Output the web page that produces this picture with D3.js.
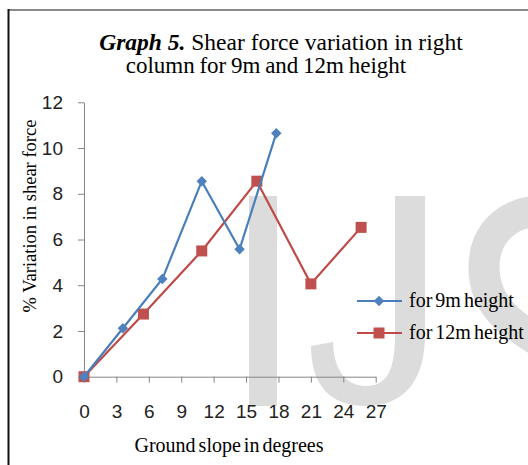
<!DOCTYPE html>
<meta charset="utf-8">
<html>
  <head>
    <script src="https://d3js.org/d3.v7.min.js" type="text/javascript"></script>
    <style>
      body { margin: 0; background: #fff; }
      svg { display: block; }
    </style>
  </head>
  <body>
    <div id="chart"></div>
    <script type="text/javascript">

      // values
      var slope9 = [0, 3.6, 7.25, 10.9, 14.4, 17.8];
      var shear9 = [0, 2.12, 4.27, 8.55, 5.57, 10.65];
      var slope12 = [0, 5.5, 10.9, 16.0, 21.0, 25.65];
      var shear12 = [0, 2.74, 5.5, 8.55, 4.06, 6.53];
      var xTicks = [0, 3, 6, 9, 12, 15, 18, 21, 24, 27];
      var yTicks = [0, 2, 4, 6, 8, 10, 12];
      var seriesNames = ["for 9m height", "for 12m height"];

      var width = 528, height = 465;
      var blue = "#4a7ebb", blueMark = "#4f81bd";
      var red = "#be4b48", redMark = "#c0504d";
      var axisCol = "#868686";
      var serif = "'Liberation Serif', 'Times New Roman', Times, serif";
      var sans = "'Liberation Sans', Arial, sans-serif";

      var svg = d3.select("#chart").append("svg")
          .attr("width", width)
          .attr("height", height);

      var x = d3.scaleLinear().domain([0, 27]).range([84, 375.7]);
      var y = d3.scaleLinear().domain([0, 12]).range([376.7, 102.3]);

      // frame of the figure
      svg.append("line").attr("x1", 8).attr("x2", width).attr("y1", 10).attr("y2", 10)
          .attr("stroke", "#8a8a8a").attr("stroke-width", 2);
      svg.append("line").attr("x1", 8.5).attr("x2", 8.5).attr("y1", 9).attr("y2", height)
          .attr("stroke", "#111").attr("stroke-width", 2);

      // watermark "IJS" behind the chart
      var wm = svg.append("g").attr("fill", "#dcdcdc");
      wm.append("rect").attr("x", 249).attr("y", 196).attr("width", 28).attr("height", 210);
      wm.append("path")
          .attr("d", "M395,196 L425,196 L425,335 C425,385 400,406 366,406 C330,406 311,385 311,346 " +
                     "L333,342 C334,372 347,386 366,386 C386,386 395,372 395,335 Z");
      wm.append("path")
          .attr("fill", "none").attr("stroke", "#dcdcdc").attr("stroke-width", 31)
          .attr("d", "M560,212 C510,205 484,232 484,268 C484,310 520,330 545,345 C560,355 570,370 570,390");

      // title
      var title = svg.append("text")
          .attr("x", 281).attr("y", 50)
          .attr("text-anchor", "middle")
          .attr("font-family", serif).attr("font-size", "23.5px").attr("fill", "#000");
      title.append("tspan").attr("font-weight", "bold").attr("font-style", "italic").text("Graph 5.");
      title.append("tspan").text(" Shear force variation in right");
      svg.append("text")
          .attr("x", 266).attr("y", 73)
          .attr("text-anchor", "middle")
          .attr("font-family", serif).attr("font-size", "23px")
          .attr("word-spacing", "-1px")
          .text("column for 9m and 12m height");

      // axes
      var xAxis = svg.append("g")
          .attr("transform", "translate(0," + y(0) + ")")
          .call(d3.axisBottom(x).tickValues(xTicks).tickSize(6).tickPadding(22).tickSizeOuter(0));
      var yAxis = svg.append("g")
          .attr("transform", "translate(" + x(0) + ",0)")
          .call(d3.axisLeft(y).tickValues(yTicks).tickSize(6).tickPadding(15).tickSizeOuter(0));

      [xAxis, yAxis].forEach(function (a) {
        a.select(".domain").attr("stroke", axisCol).attr("stroke-width", 1);
        a.selectAll(".tick line").attr("stroke", axisCol);
        a.selectAll(".tick text")
            .attr("fill", "#222")
            .style("font-family", sans).style("font-size", "19px");
      });

      // axis titles
      svg.append("text")
          .attr("transform", "translate(36,216) rotate(-90)")
          .attr("text-anchor", "middle")
          .attr("font-family", serif).attr("font-size", "18.5px")
          .text("% Variation in shear force");
      svg.append("text")
          .attr("x", 229).attr("y", 452)
          .attr("text-anchor", "middle")
          .attr("font-family", serif).attr("font-size", "20px")
          .attr("word-spacing", "-2px")
          .text("Ground slope in degrees");

      var line = d3.line()
          .x(function (d) { return x(d[0]); })
          .y(function (d) { return y(d[1]); });

      var data9 = d3.zip(slope9, shear9);
      var data12 = d3.zip(slope12, shear12);

      var diamond = d3.symbol().type(d3.symbolDiamond2).size(70);

      // 12m series
      svg.append("path").datum(data12)
          .attr("d", line).attr("fill", "none")
          .attr("stroke", red).attr("stroke-width", 2.2);
      svg.selectAll(".sq").data(data12).enter().append("rect")
          .attr("class", "sq")
          .attr("x", function (d) { return x(d[0]) - 5.5; })
          .attr("y", function (d) { return y(d[1]) - 5.5; })
          .attr("width", 11).attr("height", 11)
          .attr("fill", redMark);

      // 9m series
      svg.append("path").datum(data9)
          .attr("d", line).attr("fill", "none")
          .attr("stroke", blue).attr("stroke-width", 2.2);
      svg.selectAll(".dm").data(data9).enter().append("path")
          .attr("class", "dm")
          .attr("transform", function (d) { return "translate(" + x(d[0]) + "," + y(d[1]) + ")"; })
          .attr("d", diamond)
          .attr("fill", blueMark);

      // legend
      var legend = svg.append("g");
      var legY = [301, 333];
      legY.forEach(function (ly, i) {
        var c = i == 0 ? blue : red;
        legend.append("line").attr("x1", 357).attr("x2", 402).attr("y1", ly).attr("y2", ly)
            .attr("stroke", c).attr("stroke-width", 2.2);
        if (i == 0) {
          legend.append("path").attr("transform", "translate(379," + ly + ")")
              .attr("d", diamond).attr("fill", blueMark);
        } else {
          legend.append("rect").attr("x", 373.5).attr("y", ly - 5.5)
              .attr("width", 11).attr("height", 11).attr("fill", redMark);
        }
        legend.append("text")
            .attr("x", 409).attr("y", ly + 6)
            .attr("font-family", serif).attr("font-size", "20px")
            .attr("word-spacing", "-2px")
            .text(seriesNames[i]);
      });
    </script>
  </body>
</html>
